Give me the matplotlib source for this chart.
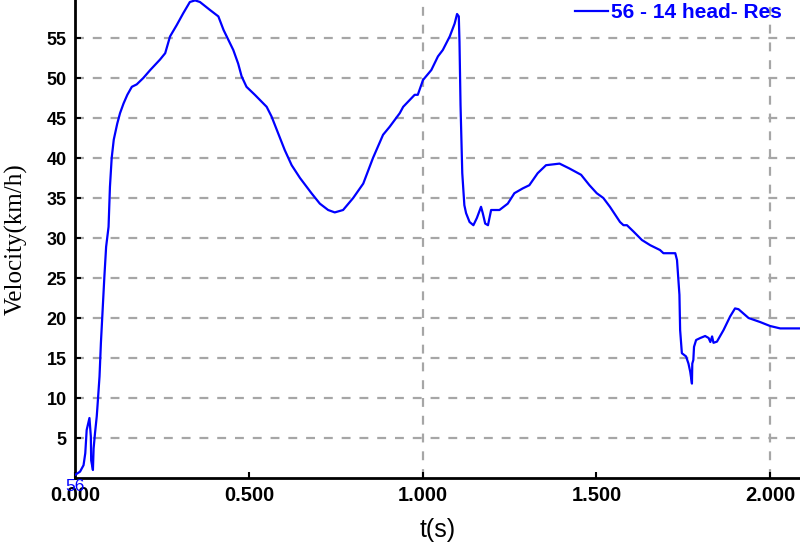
import matplotlib
matplotlib.use("Agg")
import matplotlib.pyplot as plt

# Data
t = [0.000, 0.014, 0.024, 0.029, 0.033, 0.041, 0.045, 0.046, 0.051, 0.053,
     0.057, 0.062, 0.064, 0.070, 0.074, 0.079, 0.084, 0.089, 0.096, 0.100,
     0.105, 0.111, 0.121, 0.129, 0.139, 0.150, 0.163, 0.177, 0.196, 0.216,
     0.244, 0.259, 0.273, 0.292, 0.311, 0.330, 0.345, 0.359, 0.388, 0.412,
     0.427, 0.455, 0.469, 0.479, 0.493, 0.517, 0.551, 0.565, 0.584, 0.603,
     0.623, 0.647, 0.680, 0.704, 0.728, 0.747, 0.771, 0.800, 0.829, 0.857,
     0.886, 0.905, 0.934, 0.944, 0.977, 0.986, 1.001, 1.025, 1.044, 1.058,
     1.078, 1.092, 1.099, 1.104, 1.106, 1.109, 1.114, 1.120, 1.125, 1.135,
     1.146, 1.156, 1.168, 1.173, 1.180, 1.188, 1.197, 1.221, 1.245, 1.264,
     1.288, 1.307, 1.331, 1.355, 1.394, 1.422, 1.456, 1.480, 1.501, 1.520,
     1.539, 1.568, 1.578, 1.588, 1.607, 1.631, 1.655, 1.683, 1.693, 1.727,
     1.732, 1.734, 1.739, 1.741, 1.746, 1.758, 1.765, 1.770, 1.775, 1.776,
     1.779, 1.781, 1.787, 1.799, 1.813, 1.823, 1.828, 1.833, 1.837, 1.847,
     1.866, 1.885, 1.899, 1.909, 1.938, 1.971, 2.000, 2.029, 2.086]
velocity = [0.4, 0.8, 1.6, 3.1, 6.0, 7.5, 5.2, 2.2, 1.0, 3.7,
            5.6, 7.7, 8.9, 12.7, 16.9, 21.0, 25.2, 28.9, 31.4, 36.4,
            40.0, 42.3, 44.3, 45.6, 46.8, 47.9, 48.9, 49.2, 50.0, 51.0,
            52.3, 53.1, 55.2, 56.6, 58.1, 59.5, 59.7, 59.5, 58.5, 57.7,
            56.0, 53.5, 51.8, 50.2, 48.9, 47.9, 46.4, 45.2, 43.1, 41.0,
            39.1, 37.5, 35.6, 34.3, 33.5, 33.2, 33.5, 35.0, 36.8, 40.0,
            42.9, 43.9, 45.6, 46.4, 47.9, 47.9, 49.75, 51.0, 52.7, 53.5,
            55.2, 56.8, 58.0, 57.7, 54.5, 46.6, 38.1, 34.1, 33.1, 32.0,
            31.6, 32.5, 33.9, 33.1, 31.8, 31.6, 33.5, 33.5, 34.3, 35.6,
            36.2, 36.6, 38.1, 39.1, 39.3, 38.7, 37.9, 36.6, 35.6, 35.0,
            33.9, 32.0, 31.6, 31.6, 30.8, 29.75, 29.1, 28.5, 28.1, 28.1,
            27.25, 26.0, 22.9, 18.5, 15.6, 15.2, 14.3, 13.3, 11.8, 14.3,
            14.75, 16.4, 17.25, 17.5, 17.75, 17.5, 17.0, 17.7, 16.9, 17.05,
            18.5, 20.2, 21.2, 21.1, 20.0, 19.5, 19.0, 18.7, 18.7]

series_label = "56 - 14 head- Res"
x_ticks = [0.0, 0.5, 1.0, 1.5, 2.0]
x_ticklabels = ["0.000", "0.500", "1.000", "1.500", "2.000"]
y_ticks = [5, 10, 15, 20, 25, 30, 35, 40, 45, 50, 55]
x_grid = [1.0, 2.0]

fig = plt.figure(figsize=(8.0, 5.49), dpi=100)
ax = fig.add_axes([0.094, 0.1293, 0.906, 0.8707])

grid_kw = dict(color="#a6a6a6", linestyle=(0, (4, 4)), linewidth=1.6, zorder=1)
for yv in y_ticks:
    ax.axhline(yv, **grid_kw)
for xv in x_grid:
    ax.axvline(xv, **grid_kw)

ax.plot(t, velocity, color="#0000ff", linewidth=1.6, label=series_label, zorder=3)

ax.set_xlim(0, 2.086)
ax.set_ylim(0, 59.75)
ax.set_xticks(x_ticks)
ax.set_xticklabels(x_ticklabels)
ax.set_yticks(y_ticks)

for s in ["top", "right"]:
    ax.spines[s].set_visible(False)
for s in ["left", "bottom"]:
    ax.spines[s].set_linewidth(2.0)
    ax.spines[s].set_color("black")

ax.tick_params(axis="both", direction="in", length=4, width=1.5, colors="black")
ax.tick_params(axis="x", pad=6)
ax.tick_params(axis="y", pad=6)
for lbl in ax.get_xticklabels():
    lbl.set_fontfamily("Liberation Sans")
    lbl.set_fontweight("bold")
    lbl.set_fontsize(14.5)
for lbl in ax.get_yticklabels():
    lbl.set_fontfamily("Liberation Sans")
    lbl.set_fontweight("bold")
    lbl.set_fontsize(13)

ax.set_xlabel("t(s)", fontfamily="Liberation Sans", fontsize=18, labelpad=9)
ax.set_ylabel("Velocity(km/h)", fontfamily="Liberation Serif", fontsize=18, labelpad=14)

leg = ax.legend(loc="upper right", bbox_to_anchor=(0.975, 0.993), frameon=False,
                handlelength=1.6, handletextpad=0.15, borderaxespad=0.0, borderpad=0.0,
                prop=dict(family="Liberation Sans", weight="bold", size=15))
for txt in leg.get_texts():
    txt.set_color("#0000ff")

ax.text(-0.028, -0.15, "56", color="#0000ff", fontfamily="Liberation Sans",
        fontsize=12.5, ha="left", va="top", zorder=5, clip_on=False)

fig.savefig("out.png", dpi=100)
